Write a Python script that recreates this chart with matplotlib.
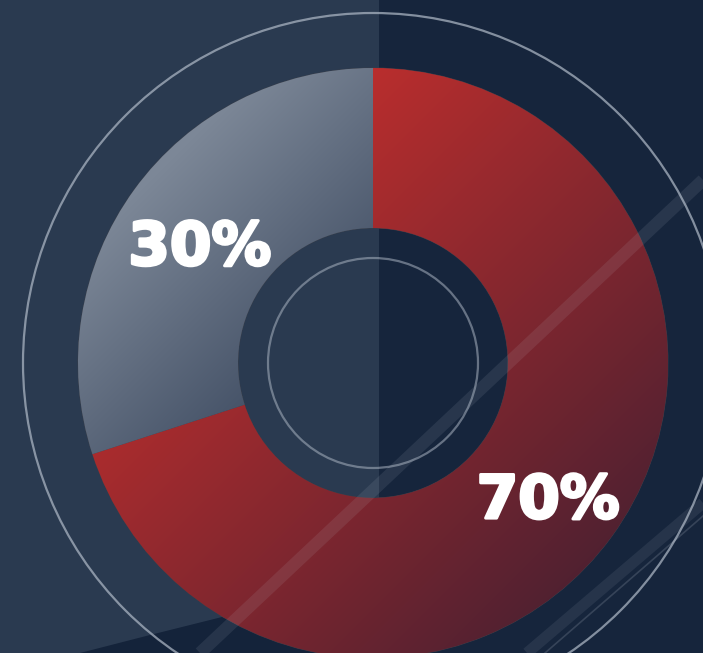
import numpy as np
import matplotlib
matplotlib.use("Agg")
import matplotlib.pyplot as plt
import matplotlib.patheffects as pe
from matplotlib.patches import Rectangle, Circle, Polygon

# ---- data ----
categories = ["Share A", "Share B"]
values = [70, 30]

W, H = 703, 653
fig = plt.figure(figsize=(W / 100, H / 100), dpi=100)
ax = fig.add_axes([0, 0, 1, 1])

# ---- background ----
split = 379
ax.add_patch(Rectangle((0, 0), split, H, facecolor="#2a3a50", edgecolor="none", zorder=0))
ax.add_patch(Rectangle((split, 0), W - split, H, facecolor="#16253c", edgecolor="none", zorder=0))
# darker area bottom-left (photo)
ax.add_patch(Polygon([(80, 0), (150, 18), (230, 38), (split, 62), (split, 0)],
                     closed=True, facecolor="#14233a", edgecolor="none", zorder=0.5))

cx, cy = 373, 290
R_out, ring_w = 295, 160

wedges, texts, autotexts = ax.pie(
    values, startangle=90, counterclock=False, radius=R_out, center=(cx, cy),
    wedgeprops=dict(width=ring_w, linewidth=0.6, edgecolor="#3a3f4a"),
    colors=["#8a2a33", "#5d6a7c"], autopct="%d%%", pctdistance=0.73,
    textprops=dict(color="white", fontsize=43, fontweight="bold", family="DejaVu Sans"),
)

# gradient fills clipped to wedges
yy, xx = np.mgrid[0:H, 0:W]
s = xx + yy  # image coords: y down

def grad_img(c0, c1, a, b):
    t = np.clip((s - a) / (b - a), 0, 1)[..., None]
    c0 = np.array(matplotlib.colors.to_rgb(c0))
    c1 = np.array(matplotlib.colors.to_rgb(c1))
    return c0 * (1 - t) + c1 * t

red = grad_img("#bb2e2d", "#4a2031", 430, 1200)
gray = grad_img("#7c8797", "#475469", 330, 650)
for w, img in zip(wedges, [red, gray]):
    w.set_zorder(2)
    im = ax.imshow(img, extent=(0, W, 0, H), origin="upper", zorder=2.1,
                   interpolation="bilinear")
    im.set_clip_path(w)

for t in autotexts:
    t.set_zorder(5)
    x, y = t.get_position()
    t.set_position((x + 1, y - 12))
    t.set_path_effects([pe.withStroke(linewidth=2.2, foreground="white")])

# thin circles
ax.add_patch(Circle((cx, cy), 350, facecolor="none", edgecolor="#a9b3c1", lw=1.6, alpha=0.75, zorder=3))
ax.add_patch(Circle((cx, cy), 105, facecolor="none", edgecolor="#a9b3c1", lw=1.6, alpha=0.55, zorder=3))

# faint diagonal light bands from the photo
ax.plot([200, 703], [0, 473], color="#c8d0dc", lw=9, alpha=0.10, zorder=4, solid_capstyle="butt")
ax.plot([527, 703], [0, 150], color="#c8d0dc", lw=8, alpha=0.09, zorder=4, solid_capstyle="butt")
ax.plot([545, 703], [0, 137], color="#c8d0dc", lw=1.2, alpha=0.18, zorder=4)

ax.set_xlim(0, W)
ax.set_ylim(0, H)
ax.set_aspect("auto")
ax.axis("off")
fig.savefig("out.png", dpi=100)
